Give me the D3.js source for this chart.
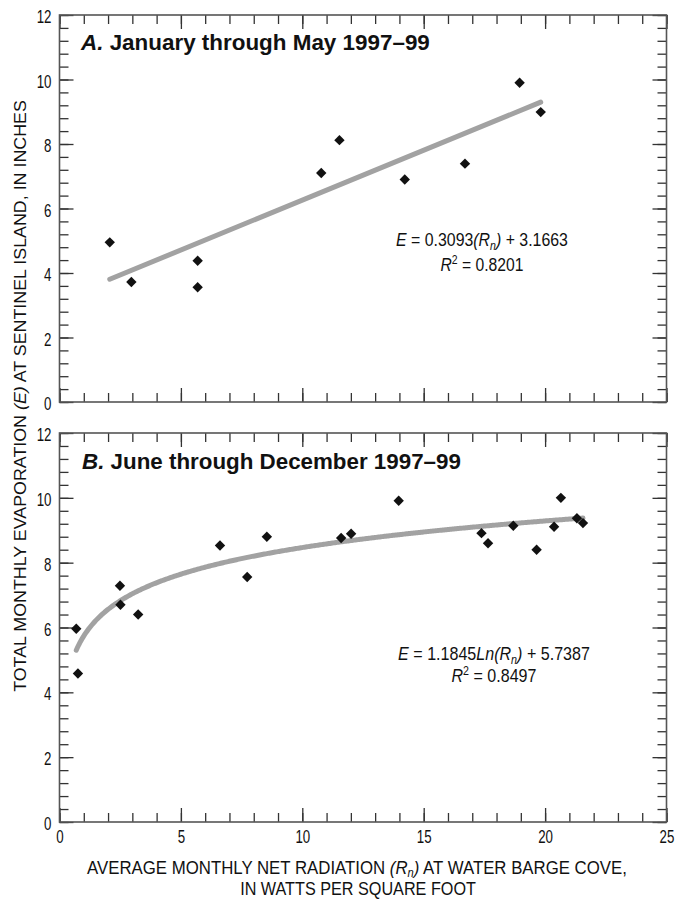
<!DOCTYPE html>
<html lang="en">
<head>
<meta charset="utf-8">
<title>Evaporation vs net radiation</title>
<script src="https://d3js.org/d3.v7.min.js"></script>
<style>
  body { margin: 0; background: #fff; }
  svg text {
    font-family: "Liberation Sans", Arial, sans-serif;
    fill: #111;
  }
  .tick line { stroke: #333; stroke-width: 1.3; }
  .frame { fill: none; stroke: #555; stroke-width: 1.6; }
</style>
</head>
<body>
<div id="chart"></div>
<script>

// panel A: January through May 1997-99
var rnA = [2.07, 2.96, 5.69, 5.69, 10.78, 11.53, 14.22, 16.70, 18.95, 19.82];
var evA = [4.95, 3.72, 4.38, 3.56, 7.10, 8.12, 6.90, 7.39, 9.90, 8.99];
var fitA = [0.3093, 3.1663];   // E = a*Rn + b

// panel B: June through December 1997-99
var rnB = [0.69, 0.76, 2.49, 2.51, 3.24, 6.61, 7.73, 8.54, 11.60, 12.01,
           13.97, 17.38, 17.65, 18.69, 19.65, 20.37, 20.65, 21.31, 21.56];
var evB = [5.96, 4.58, 7.29, 6.70, 6.40, 8.53, 7.56, 8.80, 8.76, 8.89,
           9.91, 8.91, 8.60, 9.14, 8.40, 9.11, 10.00, 9.37, 9.22];
var fitB = [1.1845, 5.7387];   // E = a*ln(Rn) + b

var xTicks = [0, 5, 10, 15, 20, 25];
var yTicks = [0, 2, 4, 6, 8, 10, 12];

var W = 677, H = 900;
var left = 59.5, right = 666.5;
var squeeze = 0.74;   // narrow the tick numbers like a condensed face

var svg = d3.select("#chart").append("svg")
  .attr("width", W).attr("height", H);

var x = d3.scaleLinear().domain([0, 25]).range([left, right]);

var xMinor = d3.range(0, 26, 1);
var yMinor = d3.range(0, 12.01, 0.4).map(function(v) { return +v.toFixed(1); });

function drawPanel(top, bottom, showX) {
  var y = d3.scaleLinear().domain([0, 12]).range([bottom, top]);
  var g = svg.append("g");

  // minor ticks, all four sides
  g.append("g").attr("transform", "translate(" + left + ",0)")
    .call(d3.axisLeft(y).tickValues(yMinor).tickSize(-9).tickSizeOuter(0).tickFormat(""));
  g.append("g").attr("transform", "translate(" + right + ",0)")
    .call(d3.axisRight(y).tickValues(yMinor).tickSize(-9).tickSizeOuter(0).tickFormat(""));
  g.append("g").attr("transform", "translate(0," + top + ")")
    .call(d3.axisTop(x).tickValues(xMinor).tickSize(-9).tickSizeOuter(0).tickFormat(""));
  g.append("g").attr("transform", "translate(0," + bottom + ")")
    .call(d3.axisBottom(x).tickValues(xMinor).tickSize(-9).tickSizeOuter(0).tickFormat(""));

  // major ticks
  var yl = g.append("g").attr("transform", "translate(" + left + ",0)")
    .call(d3.axisLeft(y).tickValues(yTicks).tickSize(-14).tickSizeOuter(0));
  yl.selectAll("text")
    .style("font-size", "18px")
    .attr("x", -8 / squeeze).attr("dy", "0.42em")
    .attr("transform", "scale(" + squeeze + ",1)");
  g.append("g").attr("transform", "translate(" + right + ",0)")
    .call(d3.axisRight(y).tickValues(yTicks).tickSize(-14).tickSizeOuter(0).tickFormat(""));
  g.append("g").attr("transform", "translate(0," + top + ")")
    .call(d3.axisTop(x).tickValues(xTicks).tickSize(-14).tickSizeOuter(0).tickFormat(""));
  var xb = g.append("g").attr("transform", "translate(0," + bottom + ")")
    .call(d3.axisBottom(x).tickValues(xTicks).tickSize(-14).tickSizeOuter(0).tickPadding(8)
      .tickFormat(showX ? d3.format("d") : ""));
  xb.selectAll("text")
    .style("font-size", "18px")
    .attr("transform", "scale(" + squeeze + ",1)");

  g.selectAll(".domain").remove();
  g.selectAll("text").attr("fill", "#111").attr("font-family", null);

  g.append("rect").attr("class", "frame")
    .attr("x", left).attr("y", top)
    .attr("width", right - left).attr("height", bottom - top);

  return { g: g, y: y };
}

var pA = drawPanel(15, 402, false);
var pB = drawPanel(433, 822, true);

// fitted lines
var extA = d3.extent(rnA);
var lineA = d3.line().x(function(d) { return x(d); })
  .y(function(d) { return pA.y(fitA[0] * d + fitA[1]); });
pA.g.append("path").datum(extA)
  .attr("d", lineA)
  .attr("fill", "none").attr("stroke", "#a2a2a2")
  .attr("stroke-width", 5).attr("stroke-linecap", "round");

var extB = d3.extent(rnB);
var curveX = d3.range(extB[0], extB[1], 0.05).concat([extB[1]]);
var lineB = d3.line().x(function(d) { return x(d); })
  .y(function(d) { return pB.y(fitB[0] * Math.log(d) + fitB[1]); });
pB.g.append("path").datum(curveX)
  .attr("d", lineB)
  .attr("fill", "none").attr("stroke", "#a2a2a2")
  .attr("stroke-width", 5).attr("stroke-linecap", "round");

// points
var diamond = d3.symbol().type(d3.symbolSquare).size(54);
function drawPoints(p, rn, ev) {
  p.g.selectAll("path.pt")
    .data(rn.map(function(v, i) { return [v, ev[i]]; }))
    .enter().append("path")
    .attr("class", "pt")
    .attr("d", diamond)
    .attr("fill", "#111")
    .attr("transform", function(d) {
      return "translate(" + x(d[0]) + "," + p.y(d[1]) + ") rotate(45)";
    });
}
drawPoints(pA, rnA, evA);
drawPoints(pB, rnB, evB);

// squeeze a text block horizontally so it spans the wanted width
function block(px, py, rot, anchor, size) {
  var g = svg.append("g");
  var t = g.append("text").attr("text-anchor", anchor).style("font-size", size + "px");
  g.datum({ px: px, py: py, rot: rot });
  return t;
}
function fit(t, width) {
  var g = d3.select(t.node().parentNode), d = g.datum();
  var w = t.node().getBBox().width;
  g.attr("transform", "translate(" + d.px + "," + d.py + ")" +
    (d.rot ? " rotate(" + d.rot + ")" : "") + " scale(" + (width / w) + ",1)");
}

// panel titles
function title(px, py, letter, rest, len) {
  var t = block(px, py, 0, "start", 22).style("font-weight", "bold");
  t.append("tspan").style("font-style", "italic").text(letter);
  t.append("tspan").text(rest);
  fit(t, len);
}
title(81, 50, "A.", " January through May 1997\u201399", 350);
title(82, 469, "B.", " June through December 1997\u201399", 379);

// equations
function equation(cx, py, parts, len) {
  var t = block(cx, py, 0, "middle", 18);
  parts.forEach(function(p) {
    var s = t.append("tspan").text(p[0]);
    if (p[1] == "i") s.style("font-style", "italic");
    if (p[1] == "sub") s.style("font-style", "italic").style("font-size", "12px").attr("dy", 4);
    if (p[1] == "back") s.style("font-style", "italic").attr("dy", -4);
    if (p[1] == "sup") s.style("font-size", "12px").attr("dy", -7);
    if (p[1] == "down") s.attr("dy", 7);
  });
  fit(t, len);
}
equation(482, 246, [["E", "i"], [" = 0.3093", ""], ["(R", "i"], ["n", "sub"], [")", "back"], [" + 3.1663", ""]], 172);
equation(482, 271, [["R", "i"], ["2", "sup"], [" = 0.8201", "down"]], 83);
equation(494, 660, [["E", "i"], [" = 1.1845", ""], ["Ln(R", "i"], ["n", "sub"], [")", "back"], [" + 5.7387", ""]], 192);
equation(494, 682, [["R", "i"], ["2", "sup"], [" = 0.8497", "down"]], 85);

// axis titles
var xt = block(357, 874, 0, "middle", 18);
xt.append("tspan").text("AVERAGE MONTHLY NET RADIATION ");
xt.append("tspan").style("font-style", "italic").text("(R");
xt.append("tspan").style("font-style", "italic").style("font-size", "12px").attr("dy", 3).text("n");
xt.append("tspan").style("font-style", "italic").attr("dy", -3).text(")");
xt.append("tspan").text(" AT WATER BARGE COVE,");
fit(xt, 540);

var xt2 = block(358, 895, 0, "middle", 18).text("IN WATTS PER SQUARE FOOT");
fit(xt2, 236);

var yt = block(26, 396, -90, "middle", 16);
yt.append("tspan").text("TOTAL MONTHLY EVAPORATION ");
yt.append("tspan").style("font-style", "italic").text("(E)");
yt.append("tspan").text(" AT SENTINEL ISLAND, IN INCHES");
fit(yt, 592);

</script>
</body>
</html>
